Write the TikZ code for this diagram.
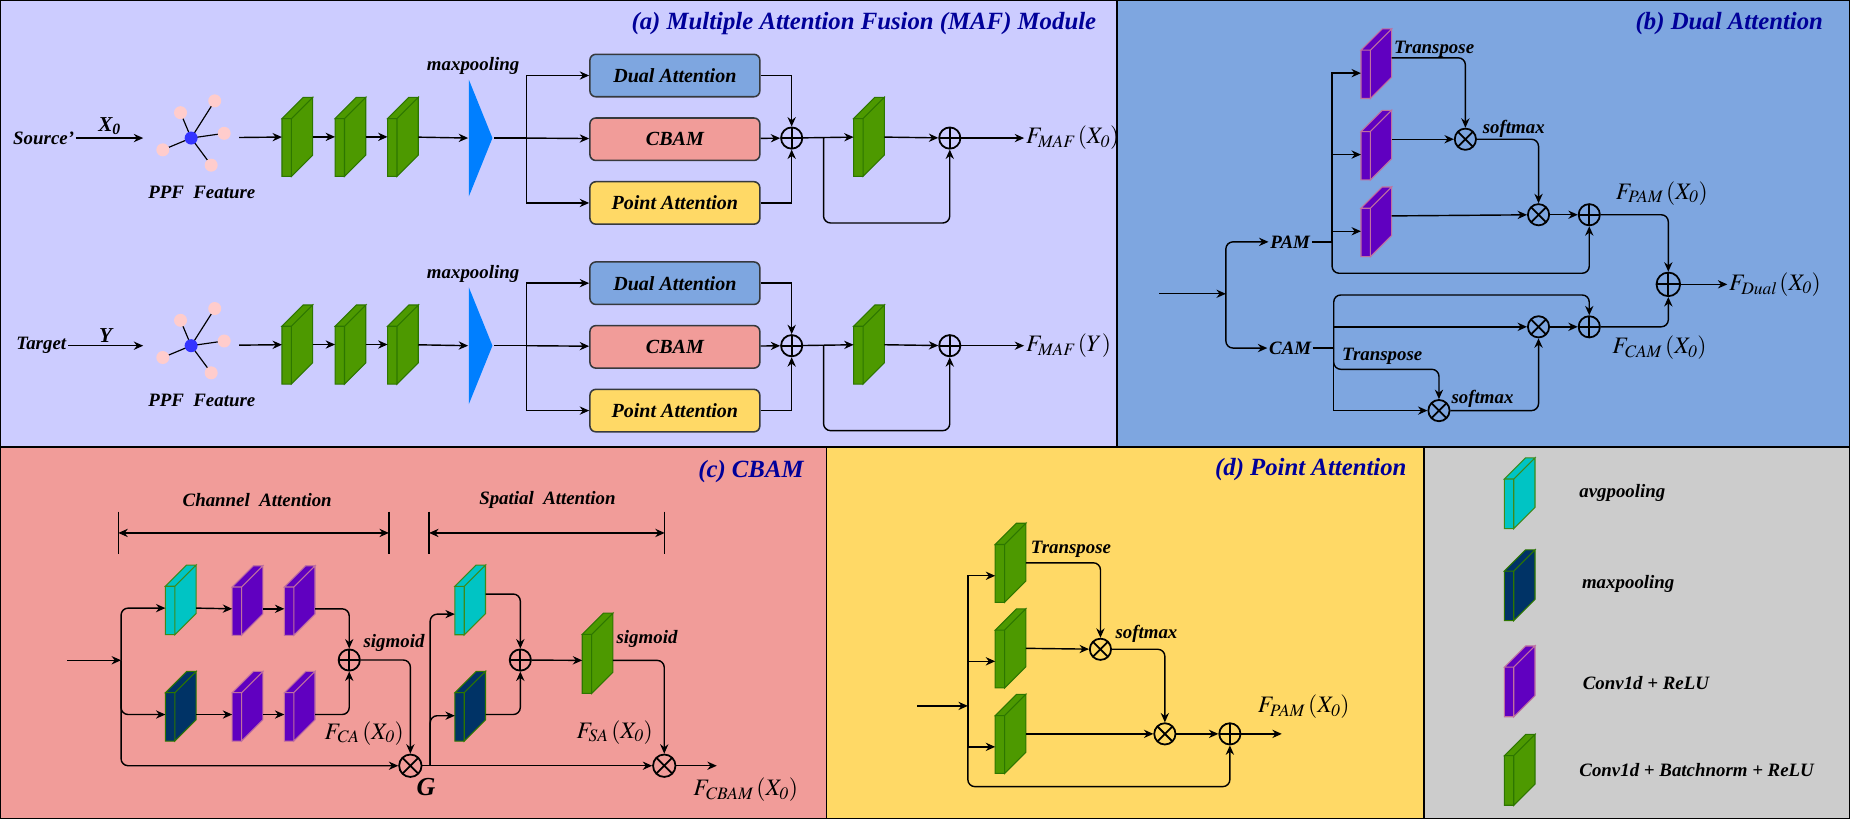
\documentclass[tikz,border=0pt]{standalone}
\usepackage{mathptmx}
\usepackage{fontspec}
\setmainfont{Liberation Serif}
\usepackage{xcolor}
\usepackage{tikz}
\usetikzlibrary{arrows.meta,positioning,calc,shapes.geometric}

\definecolor{panA}{HTML}{CCCCFF}
\definecolor{panB}{HTML}{7EA6E0}
\definecolor{panC}{HTML}{F19C99}
\definecolor{panD}{HTML}{FFD966}
\definecolor{panL}{HTML}{CCCCCC}
\definecolor{cgreen}{HTML}{4D9900}
\definecolor{cgreenD}{HTML}{2D7600}
\definecolor{ccyan}{HTML}{00C4C4}
\definecolor{ccyanD}{HTML}{3D8A1A}
\definecolor{cdark}{HTML}{003366}
\definecolor{cdarkD}{HTML}{2D7600}
\definecolor{cpurple}{HTML}{6000C0}
\definecolor{cpurpleD}{HTML}{C0709F}
\definecolor{cmp}{HTML}{007FFF}
\definecolor{cttl}{HTML}{000099}
\definecolor{cpink}{HTML}{FFCCCC}
\definecolor{cblue}{HTML}{3333FF}
\definecolor{cbox}{HTML}{36393D}

\tikzset{
  slab/.style n args={3}{minimum width=26pt, minimum height=#3, inner sep=0pt, outer sep=0pt,
    append after command={\pgfextra{
      \draw[fill=#1, draw=#2, line width=0.9pt]
        (\tikzlastnode.south west) rectangle ([xshift=8pt,yshift=-18pt]\tikzlastnode.north west)
        ([xshift=8pt]\tikzlastnode.south west) -- ([xshift=8pt,yshift=-18pt]\tikzlastnode.north west)
          -- (\tikzlastnode.north east) -- ([yshift=18pt]\tikzlastnode.south east) -- cycle
        ([yshift=-18pt]\tikzlastnode.north west) -- ([xshift=18pt]\tikzlastnode.north west)
          -- (\tikzlastnode.north east) -- ([xshift=8pt,yshift=-18pt]\tikzlastnode.north west) -- cycle;
    }}},
  gslab/.style={slab={cgreen}{cgreenD}{#1}},
  cslab/.style={slab={ccyan}{ccyanD}{#1}},
  dslab/.style={slab={cdark}{cdarkD}{#1}},
  pslab/.style={slab={cpurple}{cpurpleD}{#1}},
  arr/.style={-{Stealth[length=8pt,width=7pt]}},
  rc/.style={rounded corners=6pt},
  lbl/.style={font=\bfseries\itshape\fontsize{16}{19}\selectfont, inner sep=1pt},
  ttl/.style={font=\bfseries\itshape\fontsize{21}{24}\selectfont, text=cttl, anchor=east},
  mth/.style={font=\fontsize{20}{23}\selectfont, inner sep=1pt},
  attbox/.style={draw=cbox, line width=1.3pt, fill=#1, rounded corners=5pt,
    minimum width=144pt, minimum height=36pt, font=\bfseries\itshape\fontsize{17}{20}\selectfont},
  oplus/.style={circle, draw, line width=1.5pt, minimum size=18pt, inner sep=0pt,
    path picture={\draw[line width=1.5pt] (path picture bounding box.north) -- (path picture bounding box.south)
      (path picture bounding box.west) -- (path picture bounding box.east);}},
  otimes/.style={circle, draw, line width=1.5pt, minimum size=18pt, inner sep=0pt,
    path picture={\draw[line width=1.5pt] (path picture bounding box.north west) -- (path picture bounding box.south east)
      (path picture bounding box.south west) -- (path picture bounding box.north east);}},
  mpool/.style={isosceles triangle, isosceles triangle stretches, fill=cmp, draw=none,
    minimum width=99pt, minimum height=20pt, inner sep=0pt},
}

\begin{document}
\begin{tikzpicture}[x=1pt, y=-1pt, line width=1.2pt]
    \useasboundingbox (0,0) rectangle (1568,694);

    % Panels
    \draw[fill=panA] (0,0) rectangle (946.7,378.8);
    \draw[fill=panB] (946.7,0) rectangle (1568,378.8);
    \draw[fill=panC] (0,378.8) rectangle (700.6,694);
    \draw[fill=panD] (700.6,378.8) rectangle (1207,694);
    \draw[fill=panL] (1207,378.8) rectangle (1568,694);
    \node[ttl] at (933,20) {(a) Multiple Attention Fusion (MAF) Module};
    \node[ttl] at (1549,20) {(b) Dual Attention};
    \node[ttl] at (685,400) {(c) CBAM};
    \node[ttl] at (1196,398) {(d) Point Attention};

    % ---------------- (a) source row ----------------
    \node[lbl] (src1) at (37,117) {Source'};
    \node[minimum size=80pt, inner sep=0pt] (ppf1) at (162,117) {};
    \foreach \dx/\dy in {-9/-21.5, 20/-31.5, 28/-4, -24/10, 17/23}{
        \draw[line width=1pt] (ppf1.center) -- ++(\dx,\dy);
        \fill[cpink] ([shift={(\dx,\dy)}]ppf1.center) circle (5.5pt);
    }
    \fill[cblue] (ppf1.center) circle (5.5pt);
    \node[lbl] at (171,163) {PPF\ \ Feature};
    \node[gslab=67pt] (s11) at (252,116) {};
    \node[gslab=67pt] (s12) at (297,116) {};
    \node[gslab=67pt] (s13) at (341.5,116) {};
    \node[mpool] (mp1) at (407,117) {};
    \node[lbl] at (401,56) {maxpooling};
    \coordinate (br1) at (446,117);
    \node[attbox=panB] (da1) at (572,64) {Dual Attention};
    \node[attbox=panC] (cb1) at (572,118) {CBAM};
    \node[attbox=panD] (pa1) at (572,172) {Point Attention};
    \node[oplus] (op11) at (671,117) {};
    \node[gslab=67pt] (s14) at (736.5,116) {};
    \coordinate (sk1) at (698,117);
    \node[oplus] (op12) at (805,117) {};
    \node[mth, anchor=west] (out1) at (868,117) {$F_{\mathit{MAF}}\left(X_{\mathit{0}}\right)$};

    \draw[arr] (src1) -- node[lbl, above=1pt, font=\bfseries\itshape\fontsize{18}{20}\selectfont] {X\textsubscript{0}} (ppf1);
    \draw[arr] (ppf1) -- (s11);
    \draw[arr] (s11) -- (s12);
    \draw[arr] (s12) -- (s13);
    \draw[arr] (s13) -- (mp1.west);
    \draw (mp1.apex) -- (br1);
    \draw[arr] (br1) |- (da1);
    \draw[arr] (br1) -- (cb1);
    \draw[arr] (br1) |- (pa1);
    \draw[arr] (da1) -| (op11);
    \draw[arr] (cb1) -- (op11);
    \draw[arr] (pa1) -| (op11);
    \draw[arr] (op11) -- (s14);
    \draw[arr, rc] (sk1) -- ++(0,72) -| (op12);
    \draw[arr] (s14) -- (op12);
    \draw[arr] (op12) -- (out1);

    % ---------------- (a) target row ----------------
    \node[lbl] (src2) at (35,293) {Target};
    \node[minimum size=80pt, inner sep=0pt] (ppf2) at (162,293) {};
    \foreach \dx/\dy in {-9/-21.5, 20/-31.5, 28/-4, -24/10, 17/23}{
        \draw[line width=1pt] (ppf2.center) -- ++(\dx,\dy);
        \fill[cpink] ([shift={(\dx,\dy)}]ppf2.center) circle (5.5pt);
    }
    \fill[cblue] (ppf2.center) circle (5.5pt);
    \node[lbl] at (171,339) {PPF\ \ Feature};
    \node[gslab=67pt] (s21) at (252,292) {};
    \node[gslab=67pt] (s22) at (297,292) {};
    \node[gslab=67pt] (s23) at (341.5,292) {};
    \node[mpool] (mp2) at (407,293) {};
    \node[lbl] at (401,232) {maxpooling};
    \coordinate (br2) at (446,293);
    \node[attbox=panB] (da2) at (572,240) {Dual Attention};
    \node[attbox=panC] (cb2) at (572,294) {CBAM};
    \node[attbox=panD] (pa2) at (572,348) {Point Attention};
    \node[oplus] (op21) at (671,293) {};
    \node[gslab=67pt] (s24) at (736.5,292) {};
    \coordinate (sk2) at (698,293);
    \node[oplus] (op22) at (805,293) {};
    \node[mth, anchor=west] (out2) at (868,293) {$F_{\mathit{MAF}}\left(Y\right)$};

    \draw[arr] (src2) -- node[lbl, above=1pt, font=\bfseries\itshape\fontsize{18}{20}\selectfont] {Y} (ppf2);
    \draw[arr] (ppf2) -- (s21);
    \draw[arr] (s21) -- (s22);
    \draw[arr] (s22) -- (s23);
    \draw[arr] (s23) -- (mp2.west);
    \draw (mp2.apex) -- (br2);
    \draw[arr] (br2) |- (da2);
    \draw[arr] (br2) -- (cb2);
    \draw[arr] (br2) |- (pa2);
    \draw[arr] (da2) -| (op21);
    \draw[arr] (cb2) -- (op21);
    \draw[arr] (pa2) -| (op21);
    \draw[arr] (op21) -- (s24);
    \draw[arr, rc] (sk2) -- ++(0,72) -| (op22);
    \draw[arr] (s24) -- (op22);
    \draw[arr] (op22) -- (out2);

    % ---------------- (b) Dual Attention ----------------
    \coordinate (inb) at (982.5,249);
    \coordinate (bb) at (1039,249);
    \node[lbl] (pam) at (1093.5,205) {PAM};
    \node[lbl] (cam) at (1093.5,295) {CAM};
    \coordinate (tp) at (1129,205);
    \coordinate (tc) at (1130.4,295);
    \node[pslab=59pt] (b1) at (1166.5,54) {};
    \node[pslab=59pt] (b2) at (1166.5,123) {};
    \node[pslab=59pt] (b3) at (1166.5,188) {};
    \node[otimes] (bt1) at (1242,118) {};
    \node[otimes] (bt2) at (1304,182) {};
    \node[oplus] (bp1) at (1347,182) {};
    \node[oplus, minimum size=20pt] (bpd) at (1414,241) {};
    \node[otimes] (bt3) at (1304,277) {};
    \node[oplus] (bp2) at (1347,277) {};
    \node[otimes] (bt4) at (1219.6,348) {};
    \node[lbl] at (1215.5,42) {Transpose};
    \node[lbl] at (1283,109) {softmax};
    \node[lbl] at (1171.5,302) {Transpose};
    \node[lbl] at (1256.5,338) {softmax};
    \node[mth] at (1408.5,164) {$F_{\mathit{PAM}}\left(X_{\mathit{0}}\right)$};
    \node[mth] at (1406.5,295) {$F_{\mathit{CAM}}\left(X_{\mathit{0}}\right)$};
    \node[mth, anchor=west] (fdual) at (1464,241) {$F_{\mathit{Dual}}\left(X_{\mathit{0}}\right)$};

    \draw[arr] (inb) -- (bb);
    \draw[arr, rc] (bb) |- (pam);
    \draw[arr, rc] (bb) |- (cam);
    \draw (pam) -- (tp);
    \draw (cam) -- (tc);
    \draw[arr] (tp) |- ([yshift=-8pt]b1.west);
    \draw[arr] (tp) |- ([yshift=-8pt]b2.west);
    \draw[arr] (tp) |- ([yshift=-8pt]b3.west);
    \draw[arr, rc] (tp) -- ++(0,26.6) -| (bp1);
    \draw[arr, rc] ([yshift=5pt]b1.east) -| (bt1);
    \draw[arr] ([yshift=5pt]b2.east) -- (bt1);
    \draw[arr, rc] (bt1) -| (bt2);
    \draw[arr] ([yshift=5pt]b3.east) -- (bt2);
    \draw[arr] (bt2) -- (bp1);
    \draw[arr, rc] (bp1) -| (bpd);
    \draw[arr, rc] (tc) -- ++(0,-45) -| (bp2);
    \draw[arr] (tc) |- (bt3);
    \draw[arr, rc] (tc) -- ++(0,18) -| (bt4);
    \draw[arr] (tc) |- (bt4);
    \draw[arr, rc] (bt4) -| (bt3);
    \draw[arr] (bt3) -- (bp2);
    \draw[arr, rc] (bp2) -| (bpd);
    \draw[arr] (bpd) -- (fdual);

    % ---------------- (c) CBAM ----------------
    \node[lbl] at (218,424) {Channel\ \ Attention};
    \node[lbl] at (464,424) {Spatial\ \ Attention};
    \coordinate (ca1) at (100.3,451.7);
    \coordinate (ca2) at (329.6,451.7);
    \coordinate (sa1) at (363.7,451.7);
    \coordinate (sa2) at (563.4,451.7);
    \draw[{Stealth[length=8pt,width=7pt]}-{Stealth[length=8pt,width=7pt]}] (ca1) -- (ca2);
    \draw[{Stealth[length=8pt,width=7pt]}-{Stealth[length=8pt,width=7pt]}] (sa1) -- (sa2);
    \draw ([yshift=18pt]ca1) -- ([yshift=-18pt]ca1);
    \draw ([yshift=18pt]ca2) -- ([yshift=-18pt]ca2);
    \draw ([yshift=18pt]sa1) -- ([yshift=-18pt]sa1);
    \draw ([yshift=18pt]sa2) -- ([yshift=-18pt]sa2);

    \coordinate (inc) at (56.8,559.6);
    \coordinate (bc) at (102.6,559.6);
    \node[cslab=59pt] (c1) at (153.2,508.4) {};
    \node[pslab=59pt] (c2) at (209.8,509) {};
    \node[pslab=59pt] (c3) at (254,509) {};
    \node[dslab=59pt] (m1) at (153.2,598.6) {};
    \node[pslab=59pt] (c4) at (209.8,598.6) {};
    \node[pslab=59pt] (c5) at (254,598.6) {};
    \node[oplus] (cp1) at (296,559.4) {};
    \node[otimes, minimum size=19pt] (cg) at (347.8,649) {};
    \node[font=\bfseries\itshape\fontsize{22}{24}\selectfont] at (361,667) {G};
    \node[lbl] at (334,545) {sigmoid};
    \node[mth] at (308.7,621.5) {$F_{\mathit{CA}}\left(X_{\mathit{0}}\right)$};
    \coordinate (tg) at (364.6,649);
    \node[cslab=59pt] (c6) at (398.5,508.5) {};
    \node[dslab=59pt] (m2) at (398.5,598.6) {};
    \node[oplus] (cp2) at (441,559.4) {};
    \node[gslab=68pt] (cs) at (506.5,553.7) {};
    \node[lbl] at (548.4,541.5) {sigmoid};
    \node[mth] at (521,620.6) {$F_{\mathit{SA}}\left(X_{\mathit{0}}\right)$};
    \node[otimes, minimum size=19pt] (cf) at (563,649) {};
    \coordinate (cout) at (607.5,649);
    \node[mth] at (632,669.5) {$F_{\mathit{CBAM}}\left(X_{\mathit{0}}\right)$};

    \draw[arr] (inc) -- (bc);
    \draw[arr, rc] (bc) |- ([yshift=-7pt]c1.west);
    \draw[arr, rc] (bc) |- ([yshift=-7pt]m1.west);
    \draw[arr, rc] (bc) |- (cg);
    \draw[arr] ([yshift=-7pt]c1.east) -- ([yshift=-7pt]c2.west);
    \draw[arr] ([yshift=-7pt]c2.east) -- ([yshift=-7pt]c3.west);
    \draw[arr, rc] ([yshift=-7pt]c3.east) -| (cp1);
    \draw[arr] ([yshift=-7pt]m1.east) -- ([yshift=-7pt]c4.west);
    \draw[arr] ([yshift=-7pt]c4.east) -- ([yshift=-7pt]c5.west);
    \draw[arr, rc] ([yshift=-7pt]c5.east) -| (cp1);
    \draw[arr, rc] (cp1) -| (cg);
    \draw[arr] (cg) -- (cf);
    \draw[arr, rc] (tg) |- ([yshift=-12pt]c6.west);
    \draw[arr, rc] (tg) |- ([yshift=-8pt]m2.west);
    \draw[arr, rc] ([yshift=5pt]c6.east) -| (cp2);
    \draw[arr, rc] ([yshift=-7pt]m2.east) -| (cp2);
    \draw[arr] (cp2) -- ([yshift=-6pt]cs.west);
    \draw[arr, rc] ([yshift=-6pt]cs.east) -| (cf);
    \draw[arr] (cf) -- (cout);

    % ---------------- (d) Point Attention ----------------
    \coordinate (ind) at (777.4,598.3);
    \coordinate (td) at (820.3,598.3);
    \node[gslab=67pt] (d1) at (856.5,477) {};
    \node[gslab=67pt] (d2) at (856.5,549.5) {};
    \node[gslab=67pt] (d3) at (856.5,622) {};
    \node[otimes] (dt1) at (932.7,550.3) {};
    \node[otimes] (dt2) at (987.3,622) {};
    \node[oplus] (dp) at (1042.4,622) {};
    \coordinate (dout) at (1086.4,622);
    \node[lbl] at (907.7,466) {Transpose};
    \node[lbl] at (971.7,537.3) {softmax};
    \node[mth] at (1105,599) {$F_{\mathit{PAM}}\left(X_{\mathit{0}}\right)$};

    \draw[arr] (ind) -- (td);
    \draw[arr] (td) |- ([yshift=-11pt]d1.west);
    \draw[arr] (td) |- ([yshift=-11pt]d2.west);
    \draw[arr] (td) |- ([yshift=-11pt]d3.west);
    \draw[arr, rc] (td) -- ++(0,68.4) -| (dp);
    \draw[arr, rc] (d1.east) -| (dt1);
    \draw[arr] (d2.east) -- (dt1);
    \draw[arr, rc] (dt1) -| (dt2);
    \draw[arr] (d3.east) -- (dt2);
    \draw[arr] (dt2) -- (dp);
    \draw[arr] (dp) -- (dout);

    % ---------------- legend ----------------
    \node[cslab=60pt] (l1) at (1288,418) {};
    \node[dslab=60pt] (l2) at (1288,496) {};
    \node[pslab=60pt] (l3) at (1288,577.5) {};
    \node[gslab=60pt] (l4) at (1288,652.5) {};
    \node[lbl] at (1375,418) {avgpooling};
    \node[lbl] at (1380,495) {maxpooling};
    \node[lbl] at (1395,579) {Conv1d + ReLU};
    \node[lbl] at (1438,653) {Conv1d + Batchnorm + ReLU};
\end{tikzpicture}
\end{document}
